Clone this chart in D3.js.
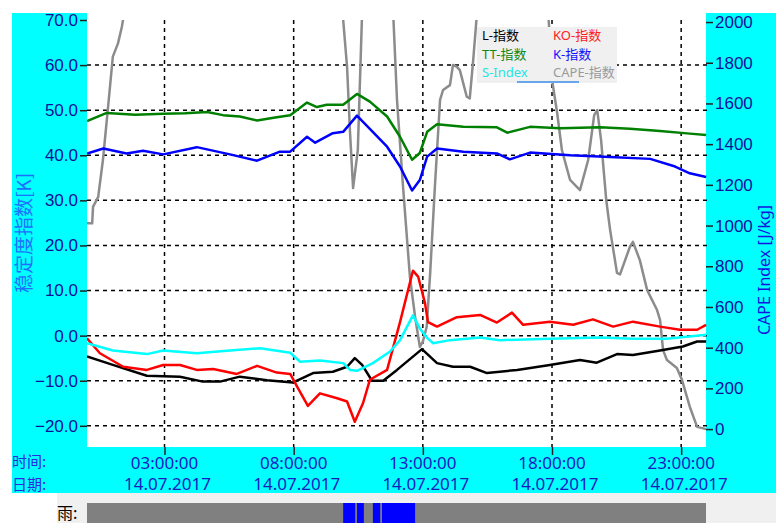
<!DOCTYPE html>
<html>
<head>
<meta charset="utf-8">
<script src="https://cdn.jsdelivr.net/npm/d3@7"></script>
<style>
  body { margin: 0; background: #fff; }
  svg { display: block; font-family: "Noto Sans", "Noto Sans CJK SC", sans-serif; }
</style>
</head>
<body>
<div id="chart"></div>
<script>
// values, times on 14.07.2017
const day = '2017-07-14'

const ttTimes = ['00:00','00:46','01:52','02:57','03:48','04:39','05:16','05:55','06:35','07:17','07:52','08:31','08:54','09:17','09:55','10:27','10:57','11:37','12:07','12:35','12:53','13:10','13:33','14:34','15:52','16:16','17:09','18:19','19:52','21:01','22:11','23:20','23:58']
const ttValues = [47.6,49.4,49.0,49.2,49.3,49.6,48.9,48.6,47.7,48.4,48.9,51.7,50.7,51.2,51.2,53.6,51.9,48.6,44.1,39.0,40.5,45.2,46.9,46.3,46.2,45.0,46.3,46.0,46.2,45.9,45.4,44.8,44.5]

const kTimes = ['00:00','00:38','01:32','02:10','02:57','04:15','05:32','06:35','07:28','07:52','08:31','08:50','09:31','09:55','10:27','11:37','12:07','12:35','12:53','13:10','13:33','14:34','15:52','16:22','17:09','18:42','20:15','21:48','22:46','23:20','23:58']
const kValues = [40.4,41.5,40.4,41.0,40.2,41.8,40.2,38.8,40.8,40.8,44.1,42.8,44.9,45.2,48.8,41.9,37.5,32.2,34.5,39.7,41.5,40.8,40.4,39.1,40.6,40.0,39.6,39.2,37.5,36.0,35.2]

const koTimes = ['00:00','00:30','01:24','02:19','02:57','03:36','04:15','04:53','05:48','06:35','07:21','07:52','08:08','08:33','09:01','09:41','10:04','10:22','10:41','10:57','11:04','11:37','12:07','12:37','12:49','13:05','13:12','13:33','14:19','15:13','15:52','16:27','16:53','17:55','18:49','19:35','20:22','21:08','22:11','22:57','23:37','23:58']
const koValues = [-0.6,-3.9,-6.9,-7.6,-6.5,-6.5,-7.6,-7.4,-8.5,-6.7,-8.2,-8.5,-11.3,-15.6,-12.8,-13.9,-14.6,-19.1,-15.0,-9.8,-9.4,-7.6,3.0,14.4,13.1,7.2,3.0,2.0,4.1,4.6,2.9,5.1,2.4,3.1,2.4,3.6,2.0,3.1,2.0,1.3,1.3,2.4]

const sTimes = ['00:00','01:00','02:19','02:57','04:15','05:32','06:42','07:52','08:15','09:01','09:55','10:11','10:27','11:04','11:44','12:07','12:37','12:53','13:10','13:24','14:03','15:13','15:59','17:55','19:52','21:08','22:27','23:58']
const sValues = [-1.7,-3.3,-4.1,-3.3,-3.9,-3.3,-2.8,-3.8,-5.8,-5.5,-6.1,-7.6,-7.8,-6.1,-3.5,-1.0,4.5,1.6,-0.5,-1.7,-1.0,-0.4,-1.0,-0.7,-0.4,-0.7,-0.7,0.2]

const lTimes = ['00:00','01:00','02:19','03:36','04:29','05:09','05:55','06:58','07:58','08:45','09:31','10:04','10:22','10:39','11:02','11:28','12:00','12:58','13:33','14:10','14:50','15:29','16:39','17:55','19:05','19:44','20:31','21:08','22:11','23:04','23:37','23:58']
const lValues = [-4.6,-6.5,-8.9,-9.1,-10.2,-10.2,-9.1,-9.9,-10.4,-8.3,-8.0,-6.9,-5.0,-6.5,-10.0,-10.0,-7.6,-3.0,-6.1,-6.9,-6.9,-8.3,-7.6,-6.5,-5.4,-6.0,-4.1,-4.3,-3.3,-2.4,-1.3,-1.3]

// CAPE runs above the 2000 scale top for long stretches (clipped there)
const capeTimes = ['00:00','00:12','00:14','00:26','00:37','00:49','01:00','01:12','01:21','01:31','05:00','09:50','09:55','10:04','10:11','10:18','10:29','10:39','10:45','11:45','11:51','12:00','12:14','12:30','12:42','12:53','13:00','13:09','13:17','13:28','13:40','13:47','14:03','14:10','14:19','14:26','14:42','14:49','14:57','15:06','16:30','17:51','18:02','18:12','18:23','18:42','19:05','19:24','19:38','19:45','19:54','20:06','20:15','20:31','20:38','21:01','21:08','21:24','21:41','22:04','22:11','22:18','22:27','22:50','23:02','23:20','23:37','23:58']
const capeValues = [1011,1011,1092,1141,1322,1584,1830,1895,1977,2100,2400,2100,2010,1780,1454,1184,1371,2050,2300,2300,2050,1617,1191,748,552,404,430,503,765,1191,1617,1666,1690,1789,1780,1764,1633,1625,1813,2050,2400,2050,1690,1553,1371,1224,1174,1322,1543,1567,1420,1125,978,767,760,896,920,830,683,585,536,388,339,300,241,110,11,0]

const rainStart = ['09:55','10:27','11:04','11:25']
const rainEnd   = ['10:23','10:43','11:21','12:42']

const leftTicks  = [-20, -10, 0, 10, 20, 30, 40, 50, 60, 70]
const rightTicks = [0, 200, 400, 600, 800, 1000, 1200, 1400, 1600, 1800, 2000]
const timeTicks  = ['03:00','08:00','13:00','18:00','23:00']

const series = [
  { name: 'CAPE-指数', times: capeTimes, values: capeValues, color: '#8c8c8c', axis: 'right' },
  { name: 'L-指数',    times: lTimes,    values: lValues,    color: '#000000', axis: 'left' },
  { name: 'KO-指数',   times: koTimes,   values: koValues,   color: '#ff0000', axis: 'left' },
  { name: 'TT-指数',   times: ttTimes,   values: ttValues,   color: '#008000', axis: 'left' },
  { name: 'K-指数',    times: kTimes,    values: kValues,    color: '#0000ff', axis: 'left' },
  { name: 'S-Index',   times: sTimes,    values: sValues,    color: '#00ffff', axis: 'left' }
]

const width = 776, height = 523
const plot = { left: 87, right: 707, top: 20, bottom: 447 }
const parse = d3.timeParse('%Y-%m-%d %H:%M')
const t = s => parse(`${day} ${s}`)

const svg = d3.select('#chart').append('svg')
  .attr('width', width)
  .attr('height', height)

// cyan frame around the plot
svg.append('rect').attr('x', 12).attr('y', 13).attr('width', plot.left - 12).attr('height', 480).attr('fill', '#00ffff')
svg.append('rect').attr('x', plot.right - 1).attr('y', 13).attr('width', width - plot.right + 1).attr('height', 480).attr('fill', '#00ffff')
svg.append('rect').attr('x', 12).attr('y', plot.bottom).attr('width', width - 12).attr('height', 493 - plot.bottom).attr('fill', '#00ffff')

const x = d3.scaleTime()
  .domain([t('00:00'), d3.timeDay.offset(t('00:00'), 1)])
  .range([plot.left, plot.right])
const yLeft = d3.scaleLinear().domain([-24.7, 70]).range([plot.bottom, plot.top])
const yRight = d3.scaleLinear().domain([-88, 2010]).range([plot.bottom, plot.top])

// grid
const grid = svg.append('g')
  .attr('stroke', '#000')
  .attr('stroke-width', 1.5)
  .attr('stroke-dasharray', '4,4')
grid.selectAll('.hgrid')
  .data(leftTicks.filter(d => d < 70))
  .join('line')
  .attr('x1', plot.left).attr('x2', plot.right)
  .attr('y1', d => yLeft(d)).attr('y2', d => yLeft(d))
grid.selectAll('.vgrid')
  .data(timeTicks)
  .join('line')
  .attr('x1', d => x(t(d))).attr('x2', d => x(t(d)))
  .attr('y1', plot.top).attr('y2', plot.bottom)

// axes
const tickColor = '#10109a'
const axisLeft = d3.axisLeft(yLeft).tickValues(leftTicks).tickFormat(d3.format('.1f')).tickSize(7).tickPadding(2)
const gl = svg.append('g').attr('transform', `translate(${plot.left},0)`).call(axisLeft)
const axisRight = d3.axisRight(yRight).tickValues(rightTicks).tickFormat(d3.format('d')).tickSize(7).tickPadding(2)
const gr = svg.append('g').attr('transform', `translate(${plot.right - 1},0)`).call(axisRight)
const axisBottom = d3.axisBottom(x).tickValues(timeTicks.map(t)).tickSize(8).tickFormat('')
const gb = svg.append('g').attr('transform', `translate(0,${plot.bottom})`).call(axisBottom)

;[gl, gr, gb].forEach(g => {
  g.select('.domain').remove()
  g.selectAll('.tick line').attr('stroke', '#222').attr('stroke-width', 1.5)
  g.selectAll('text').attr('fill', tickColor).style('font-size', '17px')
})

// time / date labels
const labels = svg.append('g').attr('fill', '#1a1ac0').style('font-size', '17px').attr('text-anchor', 'middle')
labels.selectAll('.time')
  .data(timeTicks)
  .join('text')
  .attr('x', d => x(t(d)))
  .attr('y', 469)
  .text(d => d3.timeFormat('%H:%M:%S')(t(d)))
labels.selectAll('.date')
  .data(timeTicks)
  .join('text')
  .attr('x', d => x(t(d)) + 3)
  .attr('y', 490)
  .text(d => d3.timeFormat('%d.%m.%Y')(t(d)))

svg.append('text').attr('x', 12).attr('y', 467).attr('fill', '#2a2ae0')
  .style('font-family', '"Noto Sans CJK SC"').style('font-size', '15px').text('时间:')
svg.append('text').attr('x', 12).attr('y', 490).attr('fill', '#2a2ae0')
  .style('font-family', '"Noto Sans CJK SC"').style('font-size', '15px').text('日期:')

// axis titles
svg.append('text')
  .attr('transform', 'translate(31,233) rotate(-90)')
  .attr('text-anchor', 'middle')
  .attr('fill', '#1f6fff')
  .style('font-family', '"Noto Sans CJK SC"')
  .style('font-size', '19px')
  .text('稳定度指数[K]')
svg.append('text')
  .attr('transform', 'translate(770,270) rotate(-90)')
  .attr('text-anchor', 'middle')
  .attr('fill', '#1515e0')
  .style('font-size', '16px')
  .text('CAPE Index [J/kg]')

// lines
svg.append('clipPath').attr('id', 'plotClip')
  .append('rect')
  .attr('x', plot.left).attr('y', plot.top)
  .attr('width', plot.right - plot.left).attr('height', plot.bottom - plot.top)

const lines = svg.append('g').attr('clip-path', 'url(#plotClip)')
series.forEach(s => {
  const yScale = s.axis === 'right' ? yRight : yLeft
  const line = d3.line()
    .x((d, i) => x(t(s.times[i])))
    .y(d => yScale(d))
  lines.append('path')
    .datum(s.values)
    .attr('fill', 'none')
    .attr('stroke', s.color)
    .attr('stroke-width', 2.5)
    .attr('stroke-linejoin', 'round')
    .attr('d', line)
})

// legend
const legendOrder = ['L-指数', 'KO-指数', 'TT-指数', 'K-指数', 'S-Index', 'CAPE-指数']
const legendColors = { 'L-指数': '#000', 'KO-指数': '#ff2020', 'TT-指数': '#118811', 'K-指数': '#1010ff', 'S-Index': '#22e5e5', 'CAPE-指数': '#9a9a9a' }
const legend = svg.append('g').attr('transform', 'translate(477,27)')
legend.append('rect').attr('width', 140).attr('height', 56).attr('fill', '#f0f0f0')
legend.selectAll('text')
  .data(legendOrder)
  .join('text')
  .attr('x', (d, i) => i % 2 === 0 ? 5 : 76)
  .attr('y', (d, i) => 13 + Math.floor(i / 2) * 18.5)
  .attr('fill', d => legendColors[d])
  .style('font-family', '"Noto Sans", "Noto Sans CJK SC"')
  .style('font-size', '13px')
  .text(d => d)
legend.append('line')
  .attr('x1', 40).attr('x2', 102).attr('y1', 55).attr('y2', 55)
  .attr('stroke', '#3a8ee6').attr('stroke-width', 1.5)

// rain strip
svg.append('rect').attr('x', 57).attr('y', 493).attr('width', width - 57).attr('height', 30).attr('fill', '#f0f0f0')
svg.append('rect').attr('x', plot.left).attr('y', 503).attr('width', plot.right - plot.left - 1).attr('height', 20).attr('fill', '#808080')
svg.selectAll('.rain')
  .data(rainStart)
  .join('rect')
  .attr('x', d => x(t(d)))
  .attr('y', 503)
  .attr('width', (d, i) => x(t(rainEnd[i])) - x(t(d)))
  .attr('height', 20)
  .attr('fill', '#0000ff')
svg.append('text').attr('x', 57).attr('y', 519).attr('fill', '#000')
  .style('font-family', '"Noto Sans CJK SC"').style('font-size', '16px').text('雨:')
</script>
</body>
</html>
